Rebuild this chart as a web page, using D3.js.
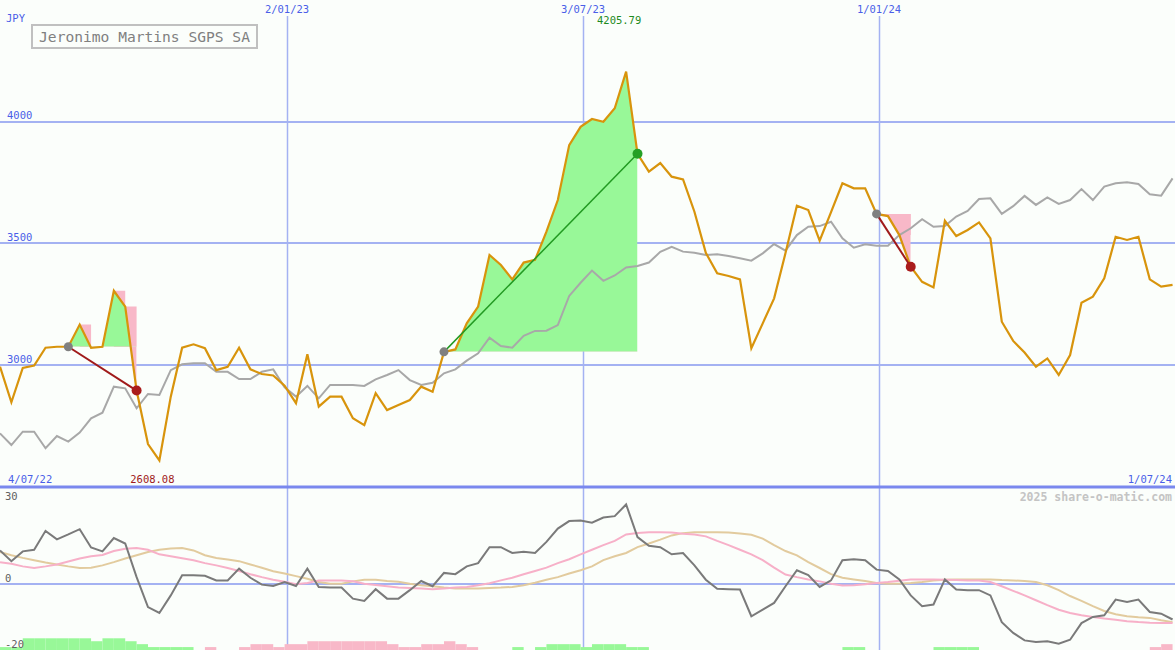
<!DOCTYPE html>
<html>
<head>
<meta charset="utf-8">
<script src="https://cdn.jsdelivr.net/npm/d3@7"></script>
<style>
  html, body { margin: 0; padding: 0; background: #fbfefb; }
  svg { display: block; }
  text { font-family: "DejaVu Sans Mono", monospace; }
</style>
</head>
<body>
<svg id="chart" width="1175" height="650"></svg>
<script>
// ---------------- DATA ----------------
const title = "Jeronimo Martins SGPS SA";
const currency = "JPY";
const firstWeek = "2022-07-09T12:00";   // first weekly sample
const lastDay = "2024-07-01";           // right edge of the chart
const startLabel = "4/07/22";
const endLabel = "1/07/24";
const gridDates = ["2023-01-02", "2023-07-03", "2024-01-01"];
const priceTicks = [3000, 3500, 4000];
const oscTicks = [30, 0, -20];
const credit = "2025 share-o-matic.com";

// weekly closing price (orange)
const price = [
  2993, 2847, 2988, 2998, 3071, 3075, 3075, 3166, 3071, 3075,
  3305, 3240, 2895, 2675, 2608.08, 2870, 3071, 3085, 3069, 2979,
  2993, 3071, 2982, 2963, 2957, 2915, 2843, 3044, 2829, 2870,
  2870, 2781, 2753, 2884, 2815, 2836, 2856, 2911, 2890, 3054,
  3064, 3171, 3240, 3452, 3411, 3352, 3421, 3432, 3548, 3678,
  3904, 3979, 4011, 4000, 4055, 4205.79, 3868, 3795, 3830, 3774,
  3763, 3630, 3461, 3377, 3366, 3352, 3069, 3171, 3274, 3460,
  3655, 3637, 3511, 3628, 3747, 3726, 3726, 3621, 3612, 3534,
  3404, 3342, 3319, 3593, 3530, 3555, 3586, 3520, 3178, 3099,
  3051, 2993, 3027, 2959, 3041, 3256, 3281, 3356, 3527, 3514,
  3527, 3352, 3322, 3329
];
// comparison index (grey)
const bench = [
  2719, 2671, 2726, 2726, 2658, 2708, 2685, 2722, 2781, 2804,
  2911, 2904, 2822, 2881, 2877, 2979, 3003, 3007, 3007, 2972,
  2972, 2942, 2942, 2972, 2982, 2908, 2870, 2914, 2863, 2918,
  2918, 2918, 2914, 2941, 2959, 2979, 2938, 2918, 2927, 2966,
  2982, 3018, 3048, 3112, 3078, 3071, 3120, 3140, 3141, 3164,
  3284, 3338, 3388, 3346, 3368, 3401, 3407, 3421, 3465, 3486,
  3466, 3461, 3452, 3455, 3448, 3439, 3429, 3459, 3497, 3470,
  3534, 3568, 3571, 3589, 3521, 3482, 3496, 3490, 3490, 3534,
  3562, 3599, 3568, 3571, 3610, 3633, 3682, 3685, 3621, 3653,
  3695, 3658, 3689, 3662, 3678, 3723, 3678, 3733, 3747, 3751,
  3744, 3702, 3696, 3767
];
// momentum oscillator (dark grey)
const osc = [
  10.4, 7.1, 10.1, 10.6, 16.4, 13.8, 15.3, 16.9, 11.3, 10.1,
  14.2, 12.5, 2.2, -7.0, -8.8, -3.4, 2.8, 2.8, 2.6, 1.2,
  1.2, 4.8, 2.0, -0.1, -0.5, 0.7, -0.5, 4.8, -0.8, -1.0,
  -1.0, -4.4, -5.1, -1.5, -4.4, -4.4, -1.8, 1.0, -0.6, 3.5,
  3.1, 5.5, 6.5, 11.4, 11.4, 9.6, 10.0, 9.6, 13.0, 17.1,
  19.4, 19.6, 18.9, 20.5, 20.9, 24.5, 14.5, 11.8, 11.4, 9.2,
  9.6, 5.8, 1.4, -1.4, -1.5, -1.6, -9.8, -7.8, -5.7, -0.6,
  4.3, 2.8, -0.8, 1.2, 7.4, 7.7, 7.4, 4.5, 4.1, 1.5,
  -3.4, -6.7, -6.2, 1.5, -1.6, -1.8, -1.8, -3.4, -11.6, -14.9,
  -17.2, -17.7, -17.5, -18.2, -17.0, -11.9, -10.0, -9.5, -4.7, -5.4,
  -4.7, -8.5, -9.0, -10.8
];
// fast signal (pink)
const sigFast = [
  6.8, 6.3, 5.5, 5.0, 5.5, 6.1, 7.0, 7.9, 8.6, 9.0,
  10.2, 10.9, 11.1, 10.6, 9.2, 8.6, 8.0, 7.4, 6.5, 5.8,
  5.0, 4.1, 3.1, 2.2, 1.4, 0.8, 0.0, 0.4, 1.2, 1.2,
  1.2, 0.9, 0.2, -0.2, -0.6, -1.0, -1.1, -1.3, -1.5, -1.3,
  -1.0, -0.8, -0.3, 0.3, 1.2, 2.0, 3.1, 4.1, 5.1, 6.5,
  7.7, 9.2, 10.6, 12.0, 13.3, 15.3, 15.7, 16.0, 16.0, 15.9,
  15.5, 15.3, 14.7, 13.3, 12.0, 10.6, 9.2, 7.4, 5.1, 3.0,
  2.2, 1.5, 0.9, 0.2, -0.4, -0.3, 0.0, 0.4, 0.7, 1.1,
  1.5, 1.5, 1.5, 1.4, 1.3, 1.2, 1.2, 0.7, -0.6, -2.0,
  -3.4, -4.9, -6.4, -7.8, -8.8, -9.5, -10.0, -10.5, -10.9, -11.3,
  -11.6, -11.8, -11.9, -11.9
];
// slow signal (tan)
const sigSlow = [
  9.9, 8.9, 8.1, 7.4, 6.7, 6.1, 5.5, 5.0, 5.1, 5.8,
  6.8, 7.9, 8.9, 9.9, 10.6, 11.0, 11.1, 10.4, 8.9, 8.1,
  7.6, 7.1, 6.1, 5.1, 4.0, 3.3, 2.5, 1.7, 0.7, 0.2,
  0.2, 0.9, 1.4, 1.4, 1.0, 0.8, 0.2, -0.3, -0.6, -1.0,
  -1.3, -1.3, -1.3, -1.1, -1.0, -0.8, -0.3, 0.5, 1.4, 2.2,
  3.3, 4.3, 5.5, 7.4, 8.6, 9.6, 11.4, 12.5, 13.7, 15.0,
  15.7, 16.0, 16.0, 16.0, 15.9, 15.6, 15.2, 14.0, 12.0, 10.2,
  8.9, 6.8, 5.0, 3.1, 2.0, 1.5, 1.0, 0.4, 0.2, 0.2,
  0.4, 0.7, 1.2, 1.4, 1.5, 1.5, 1.5, 1.5, 1.3, 1.2,
  1.0, 0.7, -0.3, -1.8, -3.6, -5.1, -6.7, -8.2, -9.2, -9.8,
  -10.1, -10.3, -11.0, -11.6
];
// signal strength bars (positive = green, negative = pink)
const strength = [
  1, 1, 4, 4, 4, 4, 4, 4, 3, 4,
  4, 3, 2, 1, 1, 1, 1, 0, -1, 0,
  0, -1, -2, -2, -1, -2, -2, -3, -3, -3,
  -3, -3, -3, -3, -2, -1, -1, -2, -2, -3,
  -2, -1, 0, 0, 0, 1, 0, 1, 2, 2,
  2, 1, 2, 2, 2, 1, 1, 0, 0, 0,
  0, 0, 0, 0, 0, 0, 0, 0, 0, 0,
  0, 0, 0, 0, 1, 1, 0, 0, 0, 0,
  0, 0, 1, 1, 1, 1, 0, 0, 0, 0,
  0, 0, 0, 0, 0, 0, 0, 0, 0, 0,
  0, -1, -2, 0
];
// trades: entry / exit week index
const tradeEntry = [6, 39, 77];
const tradeExit  = [12, 56, 80];

// ---------------- SCALES ----------------
const W = 1175, H = 650;
const parse = d3.isoParse;
const t0 = parse(firstWeek);
const dates = price.map((_, i) => d3.timeDay.offset(t0, 7 * i));
const x = d3.scaleTime().domain([t0, parse(lastDay)]).range([0, W]);
const y = d3.scaleLinear().domain([3000, 4000]).range([365, 121.7]);
const yo = d3.scaleLinear().domain([-20, 30]).range([649.5, 486.5]);
const yb = d3.scaleLinear().domain([0, 4]).range([650, 638.3]);
const fmt = d3.timeFormat("%-d/%m/%y");

const svg = d3.select("#chart");
svg.append("rect").attr("width", W).attr("height", H).attr("fill", "#fbfefb");

const gridCol = "#a4b2f2";
const labelCol = "#4a5ee8";

// ---------- grid ----------
svg.append("g").selectAll("line").data(priceTicks).join("line")
  .attr("x1", 0).attr("x2", W)
  .attr("y1", d => Math.round(y(d))).attr("y2", d => Math.round(y(d)))
  .attr("stroke", gridCol).attr("stroke-width", 2);

svg.append("line").attr("x1", 0).attr("x2", W)
  .attr("y1", Math.round(yo(0))).attr("y2", Math.round(yo(0)))
  .attr("stroke", gridCol).attr("stroke-width", 2);

svg.append("g").selectAll("line").data(gridDates).join("line")
  .attr("x1", d => Math.round(x(parse(d))) + 0.5).attr("x2", d => Math.round(x(parse(d))) + 0.5)
  .attr("y1", 16).attr("y2", H)
  .attr("stroke", gridCol).attr("stroke-width", 1.5);

// panel separator
svg.append("line").attr("x1", 0).attr("x2", W)
  .attr("y1", yo(30) + 0.5).attr("y2", yo(30) + 0.5)
  .attr("stroke", "#7a88ee").attr("stroke-width", 3);

// ---------- trade fills ----------
const idx = d3.range(price.length);
const green = "#98f898", pink = "#f8b8c8";
const defs = svg.append("defs");
tradeEntry.forEach((s, k) => {
  const e = tradeExit[k];
  const base = price[s];
  const seg = idx.filter(i => i >= s && i <= e);
  const losing = price[e] < base;
  const xs = x(dates[s]), xe = x(dates[e]);
  defs.append("clipPath").attr("id", "above" + k).append("rect")
    .attr("x", xs).attr("width", xe - xs).attr("y", 0).attr("height", y(base));
  defs.append("clipPath").attr("id", "below" + k).append("rect")
    .attr("x", xs).attr("width", xe - xs).attr("y", y(base)).attr("height", H - y(base));
  const lin = d3.area().x(i => x(dates[i])).y0(y(base)).y1(i => y(price[i]));
  if (losing) {
    svg.append("path").datum(seg)
      .attr("d", d3.area().curve(d3.curveStepAfter).x(i => x(dates[i])).y0(y(base)).y1(i => y(price[i])))
      .attr("fill", pink);
  }
  svg.append("path").datum(seg).attr("d", lin).attr("fill", green)
    .attr("clip-path", `url(#above${k})`);
  svg.append("path").datum(seg).attr("d", lin).attr("fill", pink)
    .attr("clip-path", `url(#below${k})`);
});

// ---------- price panel lines ----------
const lineP = d3.line().x((d, i) => x(dates[i])).y(d => y(d));
svg.append("path").datum(bench).attr("d", lineP)
  .attr("fill", "none").attr("stroke", "#a8a8a8").attr("stroke-width", 2);
svg.append("path").datum(price).attr("d", lineP)
  .attr("fill", "none").attr("stroke", "#d8940c").attr("stroke-width", 2.2);

// ---------- trade markers ----------
tradeEntry.forEach((s, k) => {
  const e = tradeExit[k];
  const losing = price[e] < price[s];
  svg.append("line")
    .attr("x1", x(dates[s])).attr("y1", y(price[s]))
    .attr("x2", x(dates[e])).attr("y2", y(price[e]))
    .attr("stroke", losing ? "#a01a1a" : "#229a22")
    .attr("stroke-width", losing ? 2 : 1.5);
  svg.append("circle").attr("cx", x(dates[s])).attr("cy", y(price[s])).attr("r", 4.5)
    .attr("fill", "#808080");
  svg.append("circle").attr("cx", x(dates[e])).attr("cy", y(price[e])).attr("r", 5)
    .attr("fill", losing ? "#aa1c1c" : "#25a025");
});

// ---------- oscillator panel ----------
svg.append("g").selectAll("rect").data(idx.filter(i => strength[i] !== 0 && i < price.length - 1)).join("rect")
  .attr("x", i => x(dates[i]))
  .attr("width", i => x(dates[i + 1]) - x(dates[i]))
  .attr("y", i => yb(Math.abs(strength[i])))
  .attr("height", i => yb(0) - yb(Math.abs(strength[i])))
  .attr("fill", i => strength[i] > 0 ? green : pink);

const lineO = d3.line().x((d, i) => x(dates[i])).y(d => yo(d));
svg.append("path").datum(sigSlow).attr("d", lineO)
  .attr("fill", "none").attr("stroke", "#e2cb9e").attr("stroke-width", 2);
svg.append("path").datum(sigFast).attr("d", lineO)
  .attr("fill", "none").attr("stroke", "#f7b0c8").attr("stroke-width", 2);
svg.append("path").datum(osc).attr("d", lineO)
  .attr("fill", "none").attr("stroke", "#7a7a7a").attr("stroke-width", 2);

// ---------- labels ----------
const fs = "10.5px";
svg.append("text").attr("x", 6).attr("y", 22).attr("font-size", fs).attr("fill", labelCol).text(currency);
svg.append("g").selectAll("text").data(priceTicks).join("text")
  .attr("x", 7).attr("y", d => y(d) - 2.5).attr("font-size", fs).attr("fill", labelCol)
  .text(d => d);
svg.append("g").selectAll("text").data(oscTicks).join("text")
  .attr("x", 5).attr("y", d => d === 30 ? yo(d) + 13 : (d === -20 ? yo(d) - 2 : yo(d) - 2))
  .attr("font-size", fs).attr("fill", "#606060")
  .text(d => d);
svg.append("g").selectAll("text").data(gridDates).join("text")
  .attr("x", d => x(parse(d))).attr("y", 13).attr("text-anchor", "middle")
  .attr("font-size", fs).attr("fill", labelCol)
  .text(d => fmt(parse(d)));
svg.append("text").attr("x", 8).attr("y", 483).attr("font-size", fs).attr("fill", labelCol).text(startLabel);
svg.append("text").attr("x", W - 3).attr("y", 483).attr("text-anchor", "end")
  .attr("font-size", fs).attr("fill", labelCol).text(endLabel);

const iMax = d3.maxIndex(price), iMin = d3.minIndex(price);
svg.append("text").attr("x", x(dates[iMax]) - 7).attr("y", 24).attr("text-anchor", "middle")
  .attr("font-size", fs).attr("fill", "#1e8a1e").text(price[iMax].toFixed(2));
svg.append("text").attr("x", x(dates[iMin]) - 7).attr("y", 483).attr("text-anchor", "middle")
  .attr("font-size", fs).attr("fill", "#a01a1a").text(price[iMin].toFixed(2));

svg.append("text").attr("x", W - 3).attr("y", 501).attr("text-anchor", "end")
  .attr("font-size", "11.5px").attr("font-weight", "bold").attr("fill", "#c4c4c4").text(credit);

// title box
svg.append("rect").attr("x", 32).attr("y", 25).attr("width", 225).attr("height", 23)
  .attr("fill", "#fbfefb").attr("stroke", "#c0c0c0").attr("stroke-width", 2);
svg.append("text").attr("x", 144.5).attr("y", 41.5).attr("text-anchor", "middle")
  .attr("font-size", "14.6px").attr("fill", "#808080").text(title);
</script>
</body>
</html>
